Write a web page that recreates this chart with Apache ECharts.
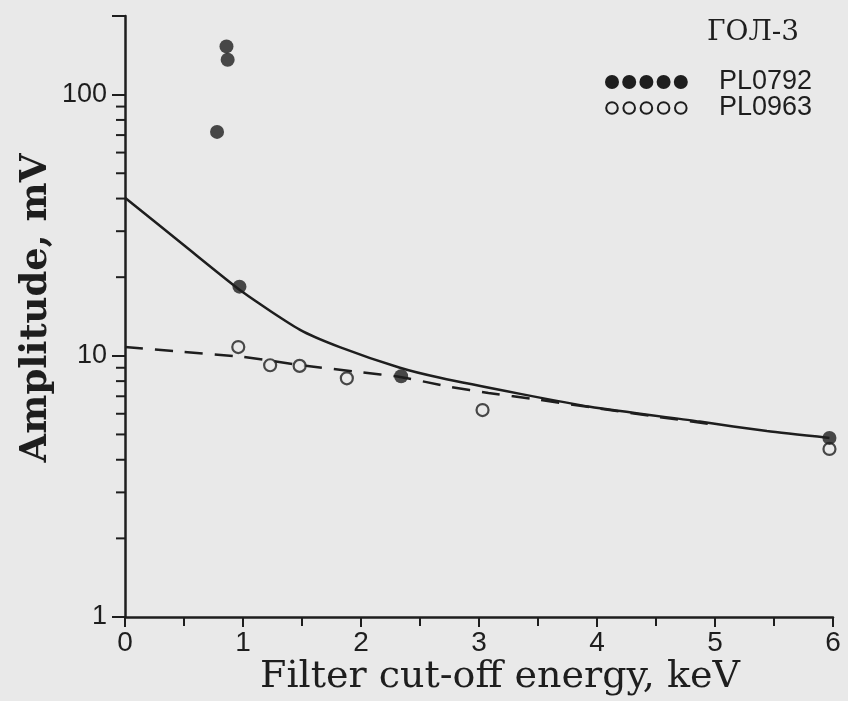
<!DOCTYPE html>
<html>
<head>
<meta charset="utf-8">
<script src="https://cdn.jsdelivr.net/npm/echarts@6/dist/echarts.min.js"></script>
<style>
html,body{margin:0;padding:0;background:#e9e9e9;}
#c{width:848px;height:701px;}
</style>
</head>
<body>
<div id="c"></div>
<script>
// ---- data ----
const xTicks = [0, 1, 2, 3, 4, 5, 6];
const yTickLabels = [1, 10, 100];
const yMinorTicks = [2, 3, 4, 5, 6, 7, 8, 9, 20, 30, 40, 50, 60, 70, 80, 90, 200];

const pl0792X = [0.86, 0.87, 0.78, 0.97, 2.34, 5.97];
const pl0792Y = [153, 136, 72, 18.4, 8.35, 4.85];

const pl0963X = [0.96, 1.23, 1.48, 1.88, 3.03, 5.97];
const pl0963Y = [10.8, 9.2, 9.15, 8.2, 6.2, 4.4];

const solidX = [0, 0.5, 1, 1.48, 1.82, 2.33, 2.67, 3.35, 3.94, 4.87, 5.44, 5.97];
const solidY = [40.3, 26.5, 17.5, 12.6, 10.8, 9.0, 8.24, 7.15, 6.38, 5.6, 5.15, 4.85];

const dashX = [0, 0.5, 1, 1.5, 2, 2.33, 2.76, 3.08, 3.5, 4, 4.5, 5];
const dashY = [10.8, 10.35, 9.9, 9.2, 8.65, 8.3, 7.6, 7.2, 6.8, 6.3, 5.85, 5.45];

const legendTitle = 'ГОЛ-3';
const seriesNames = ['PL0792', 'PL0963'];
const xTitle = 'Filter cut-off energy, keV';
const yTitle = 'Amplitude, mV';

// ---- chart ----
const ink = '#1e1e1e';
const zip = (a, b) => a.map((v, i) => [v, b[i]]);
const chart = echarts.init(document.getElementById('c'), null, {renderer: 'canvas'});

const legendDots = [];
for (let i = 0; i < 5; i++) {
  legendDots.push({type: 'circle', shape: {cx: 612 + i * 17.2, cy: 82, r: 7}, style: {fill: ink}});
  legendDots.push({type: 'circle', shape: {cx: 612 + i * 17.2, cy: 108, r: 5.8}, style: {fill: 'none', stroke: ink, lineWidth: 2}});
}

chart.setOption({
  backgroundColor: '#e9e9e9',
  animation: false,
  grid: {left: 125, right: 15, top: 16, bottom: 84, containLabel: false},
  xAxis: {
    type: 'value', min: 0, max: 6, interval: 1,
    axisLine: {show: true, lineStyle: {color: ink, width: 2.5}},
    axisTick: {show: true, length: 10, lineStyle: {color: ink, width: 2}},
    minorTick: {show: true, splitNumber: 2, length: 9, lineStyle: {color: ink, width: 2}},
    splitLine: {show: false},
    axisLabel: {
      color: ink, fontFamily: 'Liberation Sans', fontSize: 28, margin: 12,
      formatter: v => (xTicks.indexOf(v) >= 0 ? String(v) : '')
    }
  },
  yAxis: {
    type: 'log', logBase: 10, min: 1, max: 200,
    axisLine: {show: true, onZero: false, lineStyle: {color: ink, width: 2.5}},
    axisTick: {show: true, length: 13, lineStyle: {color: ink, width: 2}},
    splitLine: {show: false},
    axisLabel: {
      color: ink, fontFamily: 'Liberation Sans', fontSize: 27, margin: 18,
      formatter: v => (yTickLabels.indexOf(Math.round(v)) >= 0 ? String(Math.round(v)) : '')
    }
  },
  graphic: [
    {type: 'text', left: 707, top: 19, style: {text: legendTitle, font: '28px "DejaVu Serif"', fill: ink}},
    {type: 'text', x: 719, y: 82, style: {text: seriesNames[0], font: '27px "Liberation Sans"', fill: ink, verticalAlign: 'middle'}},
    {type: 'text', x: 719, y: 108, style: {text: seriesNames[1], font: '27px "Liberation Sans"', fill: ink, verticalAlign: 'middle'}},
    {type: 'group', children: legendDots},
    {type: 'text', x: 36, y: 308, rotation: Math.PI / 2,
      style: {text: yTitle, font: 'bold 37px "DejaVu Serif"', fill: ink, align: 'center', verticalAlign: 'middle'}},
    {type: 'text', x: 500, y: 677,
      style: {text: xTitle, font: '38px "DejaVu Serif"', fill: ink, align: 'center', verticalAlign: 'middle'}}
  ],
  series: [
    {
      name: 'fit-solid', type: 'line', data: zip(solidX, solidY), smooth: 0.2,
      symbol: 'none', lineStyle: {color: ink, width: 2.5}, z: 2
    },
    {
      name: 'fit-dashed', type: 'line', data: zip(dashX, dashY), smooth: 0.15,
      symbol: 'none', lineStyle: {color: ink, width: 2.5, type: [18, 12]}, z: 2
    },
    {
      name: seriesNames[0], type: 'scatter', data: zip(pl0792X, pl0792Y),
      symbol: 'circle', symbolSize: 14, itemStyle: {color: ink}, z: 4
    },
    {
      name: seriesNames[1], type: 'scatter', data: zip(pl0963X, pl0963Y),
      symbol: 'circle', symbolSize: 12,
      itemStyle: {color: '#e9e9e9', borderColor: ink, borderWidth: 2.2}, z: 3
    },
    {
      name: 'y-minor-ticks', type: 'custom', clip: false, silent: true,
      data: yMinorTicks.map(v => [0, v]),
      renderItem: function (params, api) {
        const p = api.coord([0, api.value(1)]);
        return {
          type: 'line',
          shape: {x1: p[0] - 9, y1: p[1], x2: p[0], y2: p[1]},
          style: {stroke: ink, lineWidth: 2}
        };
      },
      z: 5
    }
  ]
});
</script>
</body>
</html>
